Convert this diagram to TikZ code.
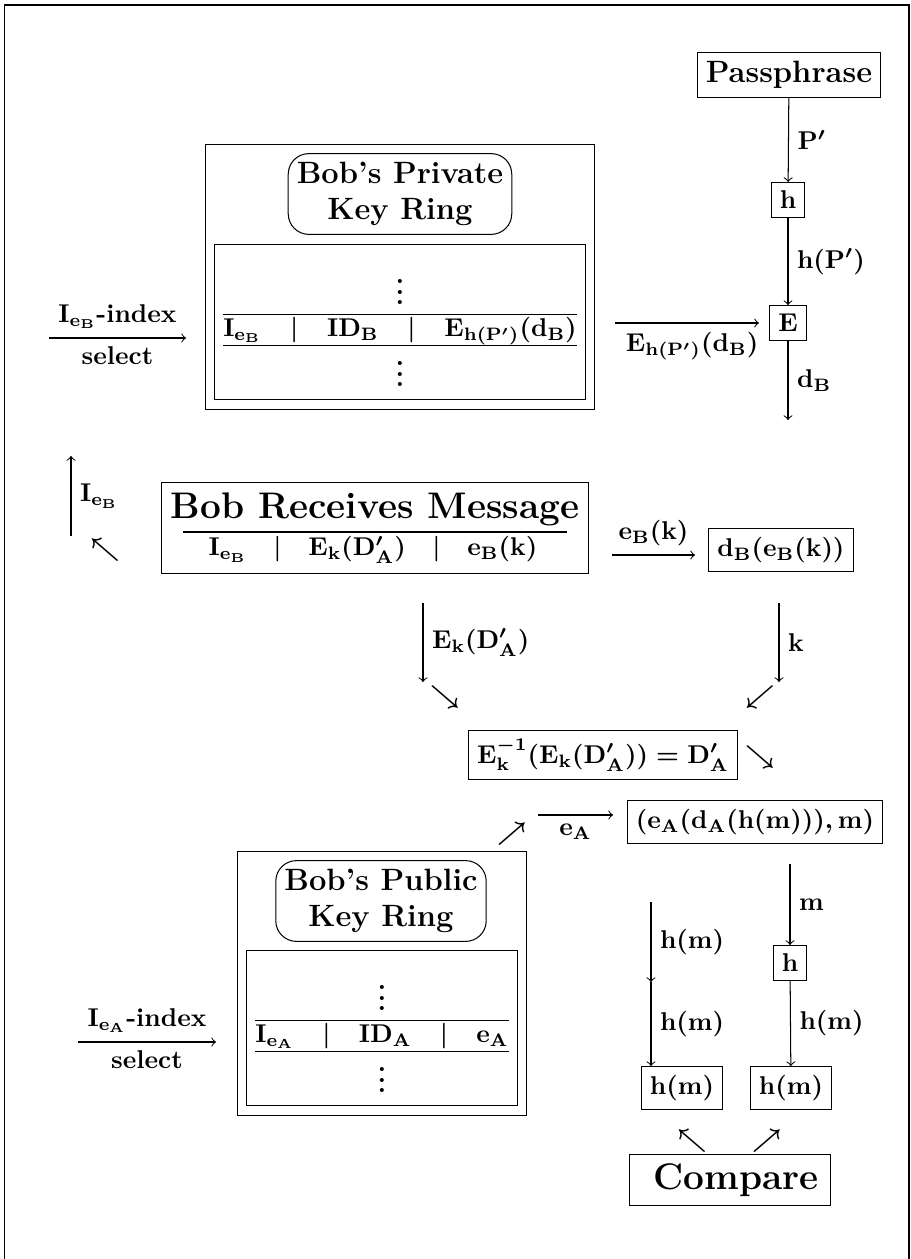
\documentclass[tikz,border=0pt]{standalone}
\usepackage{amsmath,amssymb}
\usetikzlibrary{arrows,fit}
\newcommand{\colsep}[1]{\hspace{#1}\mid\hspace{#1}}

\tikzset{
  box/.style={draw},
  ringtitle/.style={draw, rounded corners=8pt, align=center, font=\large\bfseries\boldmath},
  ringbox/.style={draw, inner sep=3.5pt},
}

\begin{document}
\begin{tikzpicture}[x=0.389pt, y=-0.389pt, auto, font=\bfseries\boldmath]
\useasboundingbox (0,0) rectangle (911,1259);
\draw (4.5,1259) -- (4.5,5) -- (909,5) -- (909,1259);

% passphrase gives the secret key
\node[box, font=\large\bfseries] (pass) at (789,75) {Passphrase};
\node[box] (hp) at (788,200) {$\mathbf{h}$};
\node[box] (enc) at (788,323) {$\mathbf{E}$};
\coordinate (db) at (788,420);
\draw[->] (pass) to node{$\mathbf{P'}$} (hp);
\draw[->] (hp) to node{$\mathbf{h(P')}$} (enc);
\draw[->] (enc) to node{$\mathbf{d_B}$} (db);

% private key ring
\node[ringtitle] (privtitle) at (400,194) {Bob's Private\\Key Ring};
\node[box, inner ysep=1.5pt] (privtable) at (400,322) {\begin{tabular}{@{}c@{}}
\rule{0pt}{21.8pt}$\vdots$\\ \hline
$\mathbf{I_{e_B}}\colsep{8pt}\mathbf{ID_B}\colsep{8pt}\mathbf{E_{h(P')}(d_B)}$\\ \hline
$\vdots$
\end{tabular}};
\node[ringbox, fit=(privtitle)(privtable)] (privring) {};
\coordinate (privin) at (49,338);
\coordinate (privat) at (186,338);
\draw[->] (privin) -- node{$\mathbf{I_{e_B}}$-index} node[swap]{select} (privat);
\coordinate (keyout) at (615,323);
\draw[->, shorten >=4pt] (keyout) -- node[swap]{$\mathbf{E_{h(P')}(d_B)}$} (enc);

% message received
\node[inner sep=0pt, font=\Large\bfseries] (recvtitle) at (375,509) {Bob Receives Message};
\node[inner sep=0pt] (recvrow) at (373,550) {$\mathbf{I_{e_B}}\colsep{7.2pt}\mathbf{E_k(D'_A)}\colsep{7.2pt}\mathbf{e_B(k)}$};
\node[ringbox, fit=(recvtitle)(recvrow)] (recv) {};
\draw[line width=0.6pt] (183,532) -- (567,532);
\coordinate (iebin) at (71,536);
\coordinate (iebat) at (71,456);
\draw[->] (iebin) -- node[swap]{$\mathbf{I_{e_B}}$} (iebat);
\node (nwa) at (105,550) {$\nwarrow$};
\coordinate (ebin) at (612,555);
\coordinate (ebat) at (695,555);
\draw[->] (ebin) -- node{$\mathbf{e_B(k)}$} (ebat);
\node[box] (dbk) at (781,550) {$\mathbf{d_B(e_B(k))}$};

% decrypt the message
\coordinate (ekin) at (423,603);
\coordinate (ekat) at (423,682);
\draw[->] (ekin) -- node{$\mathbf{E_k(D'_A)}$} (ekat);
\node (sea) at (445,697) {$\searrow$};
\coordinate (kin) at (779,603);
\coordinate (kat) at (779,682);
\draw[->] (kin) -- node{$\mathbf{k}$} (kat);
\node (swa) at (760,697) {$\swarrow$};
\node[box] (decr) at (603,755) {$\mathbf{E_k^{-1}(E_k(D'_A)) = D'_A}$};
\node (seb) at (760,757) {$\searrow$};
\node (nea) at (512,834) {$\nearrow$};
\coordinate (eain) at (538,815);
\coordinate (eaat) at (613,815);
\draw[->] (eain) -- node[swap]{$\mathbf{e_A}$} (eaat);
\node[box] (sig) at (755,822) {$\mathbf{(e_A(d_A(h(m))),m)}$};

% public key ring
\node[ringtitle] (pubtitle) at (381,901) {Bob's Public\\Key Ring};
\node[box, inner ysep=1.5pt] (pubtable) at (382,1028) {\begin{tabular}{@{}c@{}}
\rule{0pt}{21.8pt}$\vdots$\\ \hline
$\mathbf{I_{e_A}}\colsep{7.8pt}\mathbf{ID_A}\colsep{7.8pt}\mathbf{e_A}$\\ \hline
$\vdots$
\end{tabular}};
\node[ringbox, fit=(pubtitle)(pubtable)] (pubring) {};
\coordinate (pubin) at (78,1042);
\coordinate (pubat) at (216,1042);
\draw[->] (pubin) -- node{$\mathbf{I_{e_A}}$-index} node[swap]{select} (pubat);

% hash check
\coordinate (min) at (790,864);
\node[box] (hm) at (790,963) {$\mathbf{h}$};
\node[box] (hmr) at (791,1088) {$\mathbf{h(m)}$};
\node[box] (hml) at (682,1088) {$\mathbf{h(m)}$};
\draw[->] (min) -- node{$\mathbf{m}$} (hm);
\draw[->] (hm) -- node{$\mathbf{h(m)}$} (hmr);
\coordinate (hin) at (651,902);
\coordinate (hmid) at (651,982);
\draw[->] (hin) -- node{$\mathbf{h(m)}$} (hmid);
\draw[->] (hmid) -- node{$\mathbf{h(m)}$} (hmid |- hml.north);
\node (nwb) at (692,1141) {$\nwarrow$};
\node (neb) at (767,1141) {$\nearrow$};
\node[box, inner xsep=4.5pt, font=\Large\bfseries] (cmp) at (730,1180) {\hspace{5pt}Compare};
\end{tikzpicture}
\end{document}
